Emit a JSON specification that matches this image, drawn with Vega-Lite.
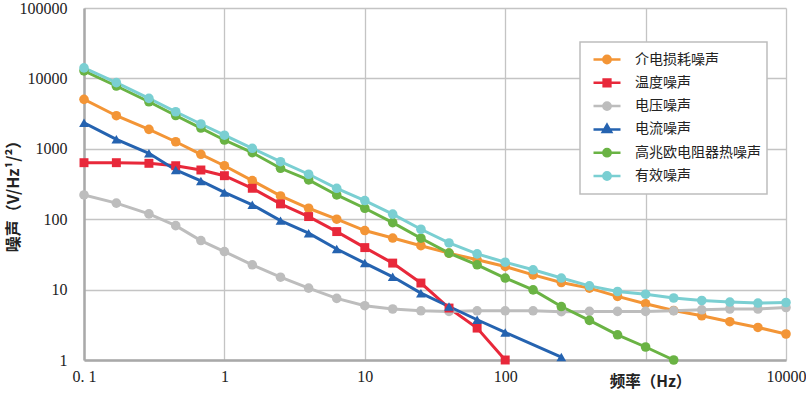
{
  "$schema": "https://vega.github.io/schema/vega-lite/v6.json",
  "width": 702,
  "height": 352,
  "autosize": {"type": "none"},
  "padding": {"left": 84, "top": 8, "right": 20, "bottom": 38},
  "background": "white",
  "config": {"view": {"stroke": null}, "font": "Noto Sans CJK SC"},
  "data": {"values": [
    {"f": 0.1, "介电损耗噪声": 5040, "温度噪声": 635, "电压噪声": 221, "电流噪声": 2345, "高兆欧电阻器热噪声": 12800, "有效噪声": 14100},
    {"f": 0.17, "介电损耗噪声": 2950, "温度噪声": 635, "电压噪声": 169, "电流噪声": 1365, "高兆欧电阻器热噪声": 7800, "有效噪声": 8700},
    {"f": 0.29, "介电损耗噪声": 1890, "温度噪声": 622, "电压噪声": 119, "电流噪声": 863, "高兆欧电阻器热噪声": 4660, "有效噪声": 5200},
    {"f": 0.45, "介电损耗噪声": 1260, "温度噪声": 575, "电压噪声": 81, "电流噪声": 500, "高兆欧电阻器热噪声": 2970, "有效噪声": 3360},
    {"f": 0.68, "介电损耗噪声": 835, "温度噪声": 500, "电压噪声": 49.7, "电流噪声": 349, "高兆欧电阻器热噪声": 1970, "有效噪声": 2250},
    {"f": 1, "介电损耗噪声": 575, "温度噪声": 415, "电压噪声": 34.7, "电流噪声": 240, "高兆欧电阻器热噪声": 1333, "有效噪声": 1560},
    {"f": 1.58, "介电损耗噪声": 353, "温度噪声": 275, "电压噪声": 22.5, "电流噪声": 160, "高兆欧电阻器热噪声": 880, "有效噪声": 1016},
    {"f": 2.51, "介电损耗噪声": 214, "温度噪声": 165, "电压噪声": 15, "电流噪声": 95.5, "高兆欧电阻器热噪声": 529, "有效噪声": 656},
    {"f": 3.98, "介电损耗噪声": 143, "温度噪声": 109, "电压噪声": 10.5, "电流噪声": 63.3, "高兆欧电阻器热噪声": 361, "有效噪声": 435},
    {"f": 6.31, "介电损耗噪声": 100, "温度噪声": 66.7, "电压噪声": 7.5, "电流噪声": 37.7, "高兆欧电阻器热噪声": 221, "有效噪声": 275},
    {"f": 10, "介电损耗噪声": 69, "温度噪声": 39.5, "电压噪声": 5.9, "电流噪声": 23.8, "高兆欧电阻器热噪声": 143, "有效噪声": 184},
    {"f": 15.8, "介电损耗噪声": 54, "温度噪声": 23.8, "电压噪声": 5.3, "电流噪声": 15.2, "高兆欧电阻器热噪声": 89.5, "有效噪声": 118},
    {"f": 25.1, "介电损耗噪声": 42, "温度噪声": 12.4, "电压噪声": 5.0, "电流噪声": 8.9, "高兆欧电阻器热噪声": 53.7, "有效噪声": 72},
    {"f": 39.8, "介电损耗噪声": 33, "温度噪声": 5.47, "电压噪声": 4.9, "电流噪声": 5.75, "高兆欧电阻器热噪声": 33, "有效噪声": 46},
    {"f": 63.1, "介电损耗噪声": 26.5, "温度噪声": 2.84, "电压噪声": 5.0, "电流噪声": 3.73, "高兆欧电阻器热噪声": 22.5, "有效噪声": 32.2},
    {"f": 100, "介电损耗噪声": 21.3, "温度噪声": 1.0, "电压噪声": 5.0, "电流噪声": 2.46, "高兆欧电阻器热噪声": 14.6, "有效噪声": 24.5},
    {"f": 158, "介电损耗噪声": 16.2, "电压噪声": 5.0, "高兆欧电阻器热噪声": 9.9, "有效噪声": 19.1},
    {"f": 251, "介电损耗噪声": 12.6, "电压噪声": 4.85, "电流噪声": 1.1, "高兆欧电阻器热噪声": 5.75, "有效噪声": 14.6},
    {"f": 398, "介电损耗噪声": 10.5, "电压噪声": 4.9, "高兆欧电阻器热噪声": 3.65, "有效噪声": 11.3},
    {"f": 631, "介电损耗噪声": 8.0, "电压噪声": 4.9, "高兆欧电阻器热噪声": 2.28, "有效噪声": 9.4},
    {"f": 1000, "介电损耗噪声": 6.3, "电压噪声": 4.9, "高兆欧电阻器热噪声": 1.53, "有效噪声": 8.6},
    {"f": 1585, "介电损耗噪声": 5.06, "电压噪声": 5.0, "高兆欧电阻器热噪声": 1.0, "有效噪声": 7.6},
    {"f": 2512, "介电损耗噪声": 4.25, "电压噪声": 5.17, "有效噪声": 7.0},
    {"f": 3981, "介电损耗噪声": 3.5, "电压噪声": 5.3, "有效噪声": 6.65},
    {"f": 6310, "介电损耗噪声": 2.9, "电压噪声": 5.3, "有效噪声": 6.44},
    {"f": 10000, "介电损耗噪声": 2.34, "电压噪声": 5.57, "有效噪声": 6.56}
  ]},
  "transform": [
    {"fold": ["介电损耗噪声", "温度噪声", "电压噪声", "电流噪声", "高兆欧电阻器热噪声", "有效噪声"], "as": ["s", "v"]},
    {"filter": "isValid(datum.v)"}
  ],
  "encoding": {
    "x": {
      "field": "f", "type": "quantitative",
      "scale": {"type": "log", "domain": [0.1, 10000]},
      "axis": {
        "values": [0.1, 1, 10, 100, 1000, 10000],
        "labelExpr": "datum.value < 1 ? '0. 1' : datum.value == 1000 ? '' : format(datum.value, 'd')",
        "ticks": false, "labelPadding": 8, "labelFlush": false, "labelOverlap": false,
        "labelFont": "Liberation Serif", "labelFontSize": 16, "labelColor": "#222",
        "domainColor": "#a9a9a9", "domainWidth": 2.5,
        "gridColor": "#c4c4c4", "gridWidth": 1.3,
        "title": "频率（Hz）", "titleFont": "Noto Sans CJK SC", "titleFontWeight": "bold", "titleFontSize": 15.5, "titleColor": "#222",
        "titleX": 566, "titleY": 21, "titleAlign": "center", "titleBaseline": "middle"
      }
    },
    "y": {
      "field": "v", "type": "quantitative",
      "scale": {"type": "log", "domain": [1, 100000]},
      "axis": {
        "values": [1, 10, 100, 1000, 10000, 100000],
        "labelExpr": "format(datum.value, 'd')",
        "ticks": false, "labelPadding": 17, "labelOverlap": false,
        "labelFont": "Liberation Serif", "labelFontSize": 16, "labelColor": "#222",
        "domainColor": "#a9a9a9", "domainWidth": 2.5,
        "gridColor": "#c4c4c4", "gridWidth": 1.3,
        "title": "噪声（V/Hz¹/²）", "titleFont": "Noto Sans CJK SC", "titleFontWeight": "bold", "titleFontSize": 16, "titleColor": "#222",
        "titleX": -71, "titleY": 184, "titleAngle": 270, "titleAlign": "center", "titleBaseline": "middle"
      }
    },
    "color": {
      "field": "s", "type": "nominal",
      "scale": {
        "domain": ["介电损耗噪声", "温度噪声", "电压噪声", "电流噪声", "高兆欧电阻器热噪声", "有效噪声"],
        "range": ["#F39536", "#E8283A", "#BDBDBD", "#2563B0", "#6AB344", "#7ACFD2"]
      },
      "legend": {
        "title": null, "orient": "none", "legendX": 496, "legendY": 34,
        "padding": 6, "symbolOffset": 6, "labelOffset": 13, "clipHeight": 23, "rowPadding": 0.3,
        "symbolSize": 729, "symbolStrokeWidth": 2.5,
        "labelFont": "Noto Sans CJK SC", "labelFontSize": 14, "labelColor": "#222", "labelLimit": 300,
        "strokeColor": "#bdbdbd", "fillColor": "white",
        "encode": {
          "symbols": {"update": {
            "shape": {"signal": "datum.value === '温度噪声' ? 'M-1,0H1M-0.25,-0.25H0.25V0.25H-0.25Z' : datum.value === '电流噪声' ? 'M-1,0H1M0,-0.34L0.31,0.2L-0.31,0.2Z' : 'M-1,0H1M-0.27,0A0.27,0.27 0 1 1 0.27,0A0.27,0.27 0 1 1 -0.27,0Z'"},
            "fill": {"signal": "scale('color', datum.value)"},
            "stroke": {"signal": "scale('color', datum.value)"},
            "strokeWidth": {"value": 2.5},
            "opacity": {"value": 1}
          }},
          "legend": {"update": {"strokeWidth": {"value": 1.5}}}
        }
      }
    }
  },
  "layer": [
    {"mark": {"type": "line", "strokeWidth": 3, "clip": true}},
    {
      "transform": [{"filter": "datum.s != '温度噪声' && datum.s != '电流噪声'"}],
      "mark": {"type": "point", "shape": "circle", "filled": true, "size": 92, "opacity": 1}
    },
    {
      "transform": [{"filter": "datum.s == '温度噪声'"}],
      "mark": {"type": "point", "shape": "square", "filled": true, "size": 80, "opacity": 1}
    },
    {
      "transform": [{"filter": "datum.s == '电流噪声'"}],
      "mark": {"type": "point", "shape": "triangle-up", "filled": true, "size": 95, "opacity": 1}
    }
  ]
}
